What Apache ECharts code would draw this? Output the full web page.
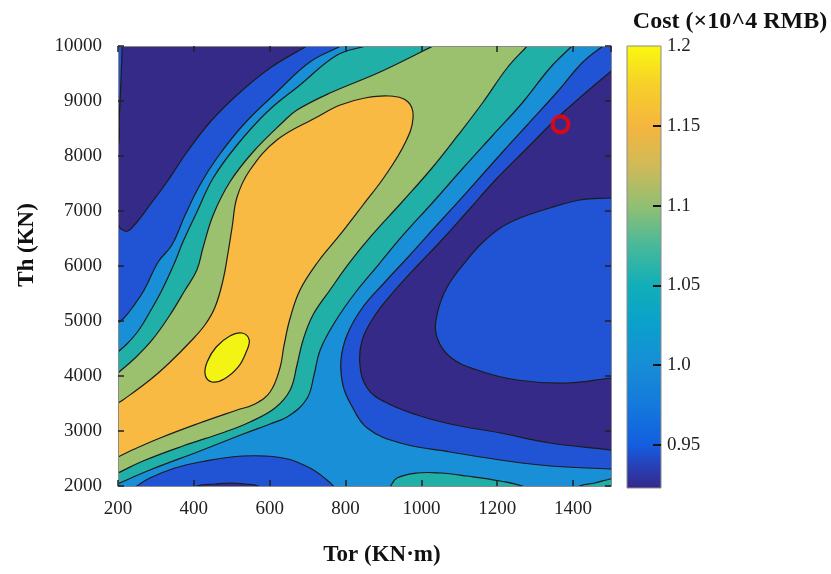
<!DOCTYPE html>
<html>
<head>
<meta charset="utf-8">
<title>Cost contour</title>
<script src="https://cdn.jsdelivr.net/npm/echarts@6/dist/echarts.min.js"></script>
<style>
    html, body { margin: 0; padding: 0; background: #fff; }
    #main { width: 831px; height: 574px; }
</style>
</head>
<body>
<div id="main"></div>
<script>
// contour outlines, as [Tor, Th] pairs
// (points past the frame are only there so the clip cuts them cleanly)
var plotBounds = [[100, 1500], [1600, 1500], [1600, 10600], [100, 10600]];

var blueTopLeft = [[870,10291],[788,10000],[706,9709],[619,9164],[530,8564],[461,7964],[416,7473],[377,6927],[342,6382],[306,6073],[269,5564],[237,5236],[216,5055],[200,4964],[168,4782],[100,4782],[100,10291]];
var navyTopLeft = [[212,10291],[211,10000],[208,9382],[203,8655],[200,8164],[179,8109],[179,6900],[187,6873],[200,6764],[208,6673],[226,6636],[250,6800],[284,7109],[329,7527],[382,8073],[443,8618],[514,9109],[601,9600],[698,10000],[764,10273]];

var blueRight = [[1524,10218],[1479,10000],[1426,9709],[1358,9164],[1279,8564],[1200,7964],[1120,7345],[1041,6745],[970,6200],[904,5709],[844,5236],[804,4745],[788,4291],[793,3836],[815,3473],[857,3055],[944,2782],[1076,2618],[1208,2473],[1339,2364],[1498,2309],[1537,2291],[1600,2290],[1600,10218]];
var navyRight = [[1529,9709],[1498,9527],[1426,9109],[1358,8691],[1279,8145],[1200,7600],[1120,6982],[1049,6436],[991,6018],[931,5564],[878,5109],[844,4655],[838,4200],[857,3782],[904,3527],[989,3291],[1076,3127],[1208,2964],[1339,2782],[1498,2655],[1537,2618],[1600,2610],[1600,9720]];
var blueEllipse = [[1537,7255],[1498,7236],[1418,7200],[1339,7055],[1260,6873],[1208,6691],[1160,6418],[1120,6109],[1068,5618],[1041,5109],[1041,4709],[1076,4345],[1147,4109],[1252,3927],[1384,3873],[1498,3964],[1537,4000],[1600,4000],[1600,7255]];

var blueBottom = [[218,1873],[245,1982],[284,2145],[350,2327],[416,2436],[530,2545],[635,2509],[706,2327],[751,2109],[778,1927],[799,1782],[800,1600],[218,1600]];
var navyBottom = [[380,1850],[408,2000],[456,2036],[495,2055],[535,2036],[569,2000],[595,1850]];

var tealLeftEdge = [[174,4273],[200,4436],[226,4600],[255,4836],[284,5164],[316,5564],[350,6073],[371,6436],[408,6982],[451,7600],[514,8200],[593,8800],[680,9291],[778,9836],[854,10000],[904,10109]];
var tealRightEdge = [[1429,10218],[1397,10000],[1339,9600],[1268,8982],[1189,8382],[1110,7782],[1031,7164],[952,6564],[886,6018],[825,5509],[772,4982],[733,4473],[717,4018],[699,3600],[654,3291],[601,3127],[530,2945],[416,2636],[284,2291],[205,2055],[166,1927]];
var tealBottom = [[895,1800],[917,1982],[936,2145],[989,2236],[1049,2236],[1120,2182],[1208,2091],[1273,1982],[1300,1850]];
var tealCorner = [[1385,1800],[1411,1982],[1458,2055],[1498,2127],[1537,2170],[1600,2170],[1600,1800]];

var greenLeftEdge = [[174,3891],[200,4055],[245,4327],[290,4655],[337,5109],[377,5564],[408,5927],[424,6327],[451,6927],[495,7527],[556,8073],[635,8618],[672,8836],[759,9145],[891,9527],[1031,10000],[1084,10182]];
var greenRightEdge = [[1305,10200],[1279,10000],[1226,9600],[1163,8982],[1097,8382],[1028,7782],[949,7164],[870,6564],[812,6073],[759,5564],[714,5109],[688,4655],[672,4200],[654,3745],[614,3418],[548,3164],[482,2982],[371,2727],[266,2455],[200,2236],[160,2109]];

var orangeRidge = [[168,2418],[200,2527],[232,2636],[311,2873],[408,3127],[514,3382],[561,3491],[601,3709],[627,4145],[638,4564],[654,5055],[680,5564],[727,6073],[785,6564],[844,7091],[904,7636],[957,8236],[978,8691],[965,8982],[917,9091],[851,9055],[786,8927],[725,8709],[619,8291],[548,7745],[514,7255],[501,6709],[490,6236],[477,5745],[456,5255],[429,4927],[390,4618],[335,4236],[284,3927],[213,3564],[200,3509],[168,3382],[120,3380],[120,2420]];
var yellowPeak = [[546,4655],[538,4436],[517,4164],[480,3945],[448,3891],[430,4018],[435,4255],[459,4527],[495,4727],[527,4782]];

var optimum = [[1367, 8576]];

var colorbarRange = [0.923, 1.2];
var colorbarTicks = [0.95, 1.0, 1.05, 1.1, 1.15, 1.2];
var colorbarTickMarks = [0.95, 1.0, 1.05, 1.1, 1.15];
var colorbarLabels = ['0.95', '1.0', '1.05', '1.1', '1.15', '1.2'];

// level colours
var cNavy = '#352a87', cBlue = '#2153d5', cMid = '#188fd6', cTeal = '#20b0a8',
    cGreen = '#9cc16e', cOrange = '#f8ba42', cYellow = '#f4f414';

var colorbarStopValues = [1.2, 1.175, 1.15, 1.125, 1.1, 1.075, 1.05, 1.025, 1.0, 0.975, 0.95, 0.94, 0.923];
var colorbarStopColors = ['#f9f90e', '#f7cf2a', '#f5b63e', '#d0ba58', '#93bf72', '#48b99a', '#12aeb8', '#0aa0cc', '#178dd6', '#1479dc', '#135edf', '#2446c0', '#34288a'];

var serif = "'Liberation Serif', 'Times New Roman', serif";

// painter's order: later regions cover earlier ones
var regions = [
    { pts: plotBounds, color: cMid, edge: false, smooth: 0 },
    { pts: blueTopLeft, color: cBlue },
    { pts: navyTopLeft, color: cNavy },
    { pts: blueRight, color: cBlue },
    { pts: navyRight, color: cNavy },
    { pts: blueEllipse, color: cBlue },
    { pts: blueBottom, color: cBlue },
    { pts: navyBottom, color: cNavy },
    { pts: tealLeftEdge.concat(tealRightEdge, [[100, 1900], [100, 4280]]), color: cTeal },
    { pts: tealBottom, color: cTeal },
    { pts: tealCorner, color: cTeal },
    { pts: greenLeftEdge.concat(greenRightEdge, [[100, 2100], [100, 3890]]), color: cGreen },
    { pts: orangeRidge, color: cOrange },
    { pts: yellowPeak, color: cYellow }
];

function renderRegion(params, api) {
    var r = regions[params.dataIndex];
    var pts = r.pts.map(function (p) { return api.coord(p); });
    return {
        type: 'polygon',
        shape: { points: pts, smooth: r.smooth === undefined ? 0.4 : r.smooth },
        style: { fill: r.color, stroke: r.edge === false ? null : '#1c1c1c', lineWidth: 1.2 }
    };
}

function renderColorbar(params, api) {
    var top = api.coord([0, colorbarRange[1]]);
    var bottom = api.coord([1, colorbarRange[0]]);
    var span = colorbarRange[1] - colorbarRange[0];
    var stops = colorbarStopValues.map(function (v, i) {
        return { offset: (colorbarRange[1] - v) / span, color: colorbarStopColors[i] };
    });
    return {
        type: 'rect',
        shape: { x: top[0], y: top[1], width: bottom[0] - top[0], height: bottom[1] - top[1] },
        style: { fill: new echarts.graphic.LinearGradient(0, 0, 0, 1, stops), stroke: '#8c8c8c', lineWidth: 1 }
    };
}

function plainNumber(v) {
    return String(v);
}

var frameLine = { show: true, onZero: false, lineStyle: { color: '#8a8a8a', width: 1 } };
var innerTick = { show: true, inside: true, length: 6, lineStyle: { color: '#222', width: 1.5 } };
var tickFont = { fontFamily: serif, fontSize: 19, color: '#222' };

var chart = echarts.init(document.getElementById('main'));
chart.setOption({
    animation: false,
    backgroundColor: '#fff',
    grid: [
        { left: 118, top: 46, width: 493, height: 440 },
        { left: 627, top: 46, width: 34, height: 442 }
    ],
    xAxis: [
        {
            type: 'value', gridIndex: 0, position: 'bottom', min: 200, max: 1500, interval: 200, z: 10,
            axisLine: frameLine, axisTick: innerTick, splitLine: { show: false },
            axisLabel: Object.assign({ margin: 14, showMaxLabel: false, formatter: plainNumber }, tickFont)
        },
        {
            type: 'value', gridIndex: 0, position: 'top', min: 200, max: 1500, interval: 200, z: 10,
            axisLine: frameLine, axisTick: innerTick, splitLine: { show: false }, axisLabel: { show: false }
        },
        { type: 'value', gridIndex: 1, min: 0, max: 1, show: false }
    ],
    yAxis: [
        {
            type: 'value', gridIndex: 0, position: 'left', min: 2000, max: 10000, interval: 1000, z: 10,
            axisLine: frameLine, axisTick: innerTick, splitLine: { show: false },
            axisLabel: Object.assign({ margin: 16, formatter: plainNumber }, tickFont)
        },
        {
            type: 'value', gridIndex: 0, position: 'right', min: 2000, max: 10000, interval: 1000, z: 10,
            axisLine: frameLine, axisTick: innerTick, splitLine: { show: false }, axisLabel: { show: false }
        },
        {
            type: 'value', gridIndex: 1, position: 'right', min: colorbarRange[0], max: colorbarRange[1], z: 10,
            axisLine: { show: false, onZero: false }, splitLine: { show: false },
            axisTick: { show: true, inside: true, length: 8, customValues: colorbarTickMarks, lineStyle: { color: '#111', width: 2 } },
            axisLabel: Object.assign({
                margin: 6,
                customValues: colorbarTicks,
                formatter: function (v) {
                    for (var i = 0; i < colorbarTicks.length; i++) {
                        if (Math.abs(colorbarTicks[i] - v) < 1e-6) return colorbarLabels[i];
                    }
                    return '';
                }
            }, tickFont)
        }
    ],
    series: [
        {
            type: 'custom',
            xAxisIndex: 0, yAxisIndex: 0,
            clip: true,
            renderItem: renderRegion,
            data: regions.map(function (r) { return r.pts[0]; }),
            silent: true
        },
        {
            type: 'scatter',
            xAxisIndex: 0, yAxisIndex: 0,
            symbol: 'circle',
            symbolSize: 16,
            itemStyle: { color: 'rgba(0,0,0,0)', borderColor: '#ff0000', borderWidth: 4 },
            data: optimum,
            z: 5
        },
        {
            type: 'custom',
            xAxisIndex: 2, yAxisIndex: 2,
            renderItem: renderColorbar,
            data: [[0, colorbarRange[0]]],
            silent: true
        }
    ],
    graphic: [
        {
            type: 'text', x: 382, y: 555,
            style: { text: 'Tor (KN·m)', fill: '#111', font: 'bold 23px ' + serif, textAlign: 'center', textVerticalAlign: 'middle' }
        },
        {
            type: 'text', x: 27, y: 245, rotation: Math.PI / 2,
            style: { text: 'Th (KN)', fill: '#111', font: 'bold 23px ' + serif, textAlign: 'center', textVerticalAlign: 'middle' }
        },
        {
            type: 'text', x: 730, y: 22,
            style: { text: 'Cost (×10^4 RMB)', fill: '#111', font: 'bold 24px ' + serif, textAlign: 'center', textVerticalAlign: 'middle' }
        }
    ]
});
</script>
</body>
</html>
